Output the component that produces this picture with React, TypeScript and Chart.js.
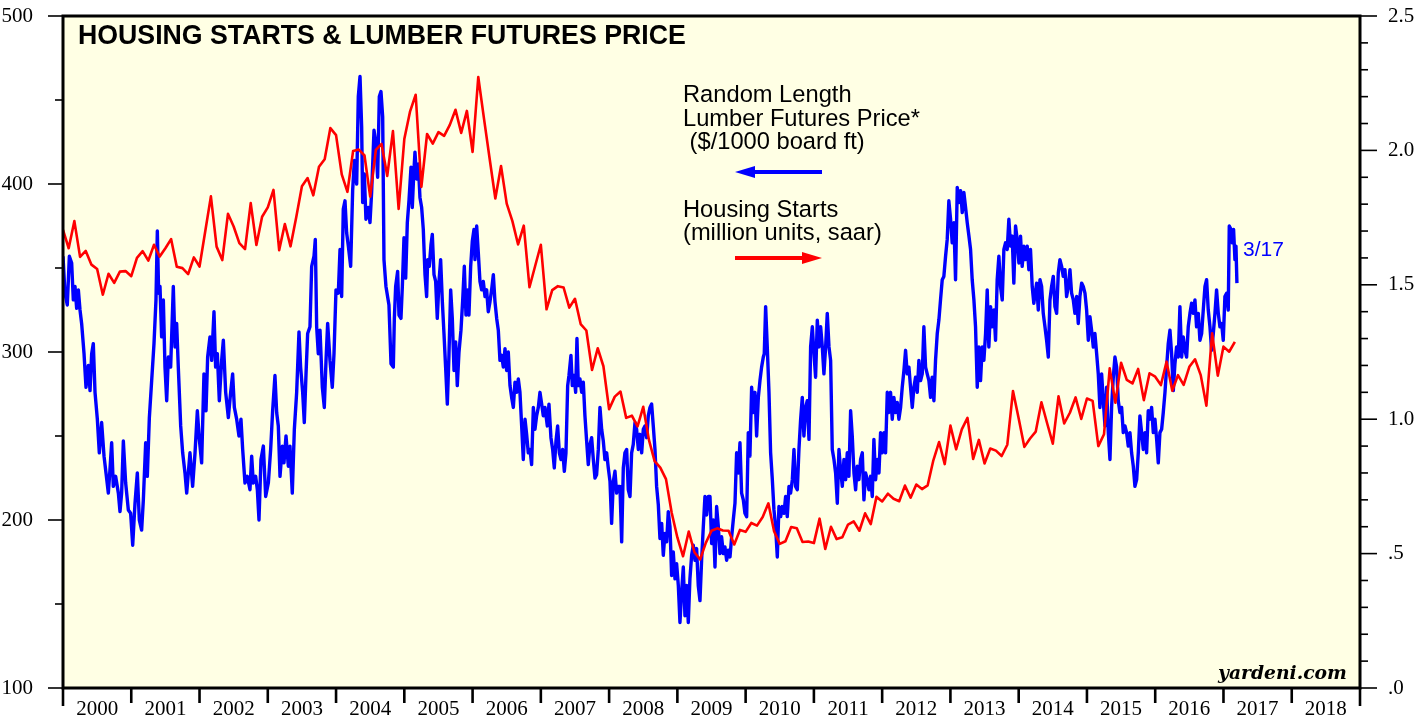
import React, { useEffect, useRef } from "react";
import { Chart, registerables } from "chart.js";

Chart.register(...registerables);

// Year axis: labels centred inside each year, ticks at year boundaries
const yearLabels = [2000, 2001, 2002, 2003, 2004, 2005, 2006, 2007, 2008, 2009, 2010, 2011, 2012, 2013, 2014, 2015, 2016, 2017, 2018];
const leftTicks = [100, 150, 200, 250, 300, 350, 400, 450, 500];
const rightTickLabels = ["2.5", "2.0", "1.5", "1.0", ".5", ".0"];

// Housing starts (million units, saar), monthly, first value = Dec 1999 (plotted at month end)
const housingFirstMonth = "1999-12";
const housingStarts = [
  1.704,
  1.636, 1.737, 1.604, 1.626, 1.575, 1.559, 1.463, 1.541, 1.507, 1.549, 1.551, 1.532,
  1.600, 1.625, 1.590, 1.649, 1.605, 1.636, 1.670, 1.567, 1.562, 1.540, 1.602, 1.568,
  1.698, 1.829, 1.642, 1.592, 1.764, 1.717, 1.655, 1.633, 1.804, 1.648, 1.753, 1.788,
  1.853, 1.629, 1.726, 1.643, 1.751, 1.867, 1.897, 1.833, 1.939, 1.967, 2.083, 2.057,
  1.911, 1.846, 1.998, 2.003, 1.981, 1.828, 2.002, 2.024, 1.905, 2.072, 1.782, 2.042,
  2.144, 2.207, 1.864, 2.061, 2.025, 2.068, 2.054, 2.095, 2.151, 2.065, 2.147, 1.994,
  2.273, 2.119, 1.969, 1.821, 1.942, 1.802, 1.737, 1.650, 1.720, 1.491, 1.570, 1.649,
  1.409, 1.480, 1.495, 1.490, 1.415, 1.448, 1.354, 1.330, 1.183, 1.264, 1.197, 1.037,
  1.084, 1.103, 1.005, 1.013, 0.973, 1.046, 0.923, 0.844, 0.820, 0.777, 0.652, 0.560,
  0.490, 0.582, 0.505, 0.478, 0.540, 0.585, 0.594, 0.586, 0.585, 0.534, 0.588, 0.581,
  0.614, 0.604, 0.636, 0.687, 0.583, 0.536, 0.546, 0.599, 0.594, 0.543, 0.545, 0.539,
  0.630, 0.517, 0.600, 0.554, 0.561, 0.608, 0.620, 0.585, 0.650, 0.610, 0.711, 0.694,
  0.723, 0.704, 0.695, 0.753, 0.708, 0.757, 0.740, 0.754, 0.847, 0.915, 0.833, 0.976,
  0.888, 0.962, 1.005, 0.852, 0.923, 0.835, 0.891, 0.883, 0.863, 0.905, 1.105, 1.003,
  0.897, 0.928, 0.954, 1.063, 0.985, 0.909, 1.085, 0.984, 1.024, 1.081, 1.001, 1.077,
  1.068, 0.900, 0.944, 1.189, 1.061, 1.210, 1.146, 1.133, 1.187, 1.071, 1.171, 1.158,
  1.127, 1.214, 1.106, 1.164, 1.128, 1.195, 1.223, 1.164, 1.050, 1.320, 1.162, 1.270,
  1.251, 1.288,
];

// Random Length lumber futures price ($/1000 board ft): [years since 2000, price]
const lumberPrice: [number, number][] = [
  [0.000,357],[0.029,335],[0.063,328],[0.093,357],[0.127,353],[0.151,331],[0.176,339],[0.200,326],[0.225,337],[0.249,325],
  [0.273,317],[0.308,299],[0.337,279],[0.371,292],[0.396,277],[0.420,299],[0.444,305],[0.469,276],[0.503,260],[0.532,240],
  [0.566,258],[0.601,238],[0.630,228],[0.664,216],[0.688,230],[0.713,246],[0.737,220],[0.771,226],[0.811,216],[0.835,205],
  [0.859,216],[0.884,247],[0.918,222],[0.957,206],[0.991,204],[1.021,185],[1.055,210],[1.089,228],[1.118,200],[1.152,194],
  [1.177,212],[1.211,246],[1.235,226],[1.265,261],[1.299,283],[1.333,305],[1.362,331],[1.382,372],[1.401,335],[1.421,339],
  [1.445,309],[1.470,331],[1.494,291],[1.519,271],[1.543,297],[1.577,291],[1.616,339],[1.641,303],[1.665,317],[1.689,291],
  [1.724,256],[1.753,240],[1.787,228],[1.812,216],[1.836,228],[1.860,240],[1.899,220],[1.934,240],[1.968,265],[1.997,248],
  [2.031,234],[2.065,287],[2.095,265],[2.119,297],[2.153,309],[2.178,295],[2.212,324],[2.236,291],[2.261,299],[2.290,271],
  [2.324,295],[2.349,307],[2.383,276],[2.422,261],[2.456,276],[2.485,287],[2.510,267],[2.544,260],[2.578,250],[2.607,260],
  [2.632,242],[2.666,222],[2.700,226],[2.739,218],[2.764,238],[2.788,222],[2.822,226],[2.847,218],[2.871,200],[2.900,236],
  [2.935,244],[2.969,214],[3.008,222],[3.042,242],[3.071,265],[3.105,286],[3.130,264],[3.154,256],[3.179,226],[3.213,244],
  [3.237,234],[3.267,250],[3.301,232],[3.325,244],[3.359,216],[3.389,254],[3.423,276],[3.457,312],[3.481,291],[3.511,276],
  [3.535,258],[3.560,287],[3.584,311],[3.618,315],[3.643,351],[3.677,357],[3.696,367],[3.716,315],[3.740,299],[3.765,313],
  [3.799,279],[3.828,267],[3.853,295],[3.877,317],[3.911,295],[3.945,279],[3.970,299],[3.999,337],[4.033,335],[4.058,361],
  [4.082,333],[4.106,385],[4.131,390],[4.155,371],[4.180,363],[4.214,351],[4.243,396],[4.268,414],[4.302,400],[4.326,452],
  [4.351,464],[4.375,434],[4.390,389],[4.414,406],[4.438,379],[4.473,386],[4.497,377],[4.521,395],[4.556,432],[4.585,424],
  [4.609,404],[4.634,452],[4.658,455],[4.683,440],[4.702,355],[4.731,339],[4.775,328],[4.805,293],[4.839,291],[4.854,320],
  [4.873,339],[4.902,348],[4.922,322],[4.951,320],[4.971,339],[4.995,368],[5.020,344],[5.044,377],[5.068,390],[5.098,410],
  [5.117,386],[5.137,405],[5.156,419],[5.181,403],[5.205,412],[5.229,392],[5.254,386],[5.278,373],[5.303,346],[5.327,333],
  [5.342,355],[5.366,351],[5.391,364],[5.410,370],[5.435,346],[5.459,342],[5.483,320],[5.508,342],[5.532,355],[5.557,330],
  [5.581,311],[5.605,291],[5.630,269],[5.654,298],[5.679,337],[5.703,320],[5.728,289],[5.752,306],[5.776,280],[5.801,300],
  [5.830,313],[5.854,330],[5.879,351],[5.903,322],[5.928,337],[5.947,322],[5.972,351],[5.996,366],[6.021,373],[6.035,355],
  [6.060,375],[6.084,359],[6.108,342],[6.133,337],[6.157,342],[6.182,333],[6.206,337],[6.230,324],[6.255,330],[6.279,337],
  [6.304,346],[6.328,330],[6.353,320],[6.377,313],[6.401,295],[6.426,298],[6.450,291],[6.475,302],[6.499,289],[6.523,300],
  [6.548,280],[6.572,273],[6.597,267],[6.621,282],[6.646,276],[6.670,284],[6.694,276],[6.719,256],[6.743,236],[6.768,260],
  [6.792,251],[6.816,240],[6.841,242],[6.865,233],[6.890,267],[6.914,254],[6.938,262],[6.963,267],[6.987,276],[7.012,269],
  [7.036,262],[7.061,267],[7.095,256],[7.119,269],[7.148,249],[7.173,242],[7.197,231],[7.222,247],[7.246,256],[7.271,240],
  [7.295,236],[7.319,242],[7.344,229],[7.368,240],[7.393,280],[7.412,286],[7.441,298],[7.461,280],[7.485,286],[7.510,276],
  [7.529,308],[7.549,280],[7.573,284],[7.598,276],[7.622,282],[7.646,262],[7.671,247],[7.695,233],[7.720,245],[7.744,249],
  [7.769,236],[7.793,225],[7.817,227],[7.842,242],[7.866,267],[7.891,254],[7.915,247],[7.939,236],[7.964,240],[7.988,231],
  [8.013,223],[8.037,198],[8.062,223],[8.086,229],[8.110,216],[8.135,220],[8.159,220],[8.184,187],[8.208,231],[8.232,240],
  [8.257,242],[8.281,218],[8.306,214],[8.330,240],[8.354,245],[8.379,258],[8.403,254],[8.428,242],[8.452,251],[8.477,240],
  [8.501,254],[8.525,256],[8.550,249],[8.574,262],[8.599,267],[8.623,269],[8.647,256],[8.672,242],[8.696,220],[8.721,209],
  [8.745,189],[8.770,198],[8.794,179],[8.818,192],[8.843,187],[8.867,205],[8.892,196],[8.916,167],[8.940,181],[8.965,165],
  [8.989,174],[9.014,161],[9.038,139],[9.062,157],[9.087,172],[9.111,143],[9.136,161],[9.160,139],[9.184,165],[9.209,179],
  [9.233,185],[9.258,176],[9.282,183],[9.306,161],[9.331,152],[9.355,176],[9.380,196],[9.404,214],[9.429,203],[9.453,214],
  [9.478,214],[9.502,186],[9.526,200],[9.551,172],[9.575,208],[9.600,196],[9.624,180],[9.648,190],[9.673,180],[9.697,184],
  [9.722,176],[9.746,182],[9.771,178],[9.795,190],[9.819,200],[9.844,210],[9.868,240],[9.893,228],[9.917,246],[9.941,216],
  [9.966,212],[9.990,204],[10.015,202],[10.039,252],[10.063,238],[10.088,279],[10.112,264],[10.137,276],[10.161,250],[10.186,273],
  [10.210,283],[10.234,291],[10.259,297],[10.273,299],[10.293,327],[10.317,303],[10.342,276],[10.366,240],[10.391,224],[10.415,206],
  [10.439,196],[10.464,178],[10.488,208],[10.513,202],[10.537,208],[10.562,204],[10.586,214],[10.610,202],[10.635,220],[10.659,216],
  [10.684,224],[10.708,242],[10.732,220],[10.757,218],[10.781,242],[10.806,260],[10.830,273],[10.854,250],[10.879,267],[10.903,271],
  [10.928,248],[10.952,303],[10.977,315],[11.001,299],[11.025,285],[11.050,319],[11.074,303],[11.099,315],[11.123,303],[11.147,287],
  [11.172,303],[11.196,323],[11.221,303],[11.245,295],[11.269,242],[11.294,236],[11.318,228],[11.343,210],[11.367,242],[11.391,230],
  [11.416,220],[11.440,236],[11.465,224],[11.489,240],[11.513,226],[11.538,265],[11.562,250],[11.587,228],[11.611,218],[11.635,232],
  [11.660,224],[11.684,236],[11.709,240],[11.733,212],[11.757,228],[11.782,224],[11.806,218],[11.831,226],[11.855,214],[11.879,248],
  [11.904,224],[11.928,236],[11.953,228],[11.977,252],[12.001,240],[12.026,252],[12.050,240],[12.075,276],[12.099,264],[12.123,276],
  [12.148,260],[12.172,273],[12.197,264],[12.221,270],[12.245,260],[12.270,267],[12.294,279],[12.319,289],[12.343,301],[12.367,287],
  [12.392,291],[12.416,279],[12.441,267],[12.465,279],[12.489,285],[12.514,276],[12.538,295],[12.563,283],[12.587,287],[12.611,315],
  [12.636,291],[12.660,287],[12.685,283],[12.709,273],[12.733,285],[12.758,271],[12.782,295],[12.807,311],[12.831,319],[12.855,331],
  [12.880,343],[12.904,345],[12.929,357],[12.953,367],[12.977,390],[13.002,379],[13.026,365],[13.051,377],[13.075,343],[13.100,398],
  [13.124,389],[13.149,396],[13.173,383],[13.197,395],[13.222,386],[13.246,377],[13.271,369],[13.295,361],[13.319,343],[13.344,331],
  [13.368,315],[13.393,279],[13.417,303],[13.441,283],[13.466,303],[13.490,295],[13.515,311],[13.539,337],[13.563,303],[13.588,327],
  [13.612,315],[13.637,325],[13.661,307],[13.685,343],[13.710,357],[13.734,339],[13.759,331],[13.783,361],[13.807,365],[13.832,361],
  [13.856,379],[13.881,363],[13.905,369],[13.929,341],[13.954,375],[13.978,367],[14.003,353],[14.027,369],[14.051,351],[14.076,363],
  [14.100,355],[14.125,363],[14.149,349],[14.173,361],[14.198,339],[14.222,329],[14.263,341],[14.287,325],[14.312,343],[14.336,339],
  [14.360,323],[14.385,315],[14.409,307],[14.434,297],[14.458,331],[14.482,339],[14.507,345],[14.531,327],[14.556,323],[14.580,347],
  [14.604,355],[14.629,351],[14.653,345],[14.678,349],[14.702,333],[14.727,339],[14.751,349],[14.775,335],[14.800,331],[14.824,323],
  [14.849,333],[14.873,317],[14.897,333],[14.922,341],[14.946,339],[14.971,335],[14.995,325],[15.020,307],[15.044,321],[15.068,313],
  [15.093,303],[15.117,311],[15.142,299],[15.166,287],[15.190,267],[15.215,287],[15.239,271],[15.264,256],[15.288,279],[15.313,252],
  [15.337,236],[15.361,267],[15.386,285],[15.410,297],[15.435,291],[15.459,271],[15.483,264],[15.508,267],[15.532,252],[15.557,256],
  [15.581,252],[15.605,244],[15.630,252],[15.654,240],[15.679,232],[15.703,220],[15.728,224],[15.752,240],[15.776,262],[15.801,252],
  [15.825,242],[15.850,252],[15.874,240],[15.898,265],[15.923,260],[15.947,267],[15.972,252],[15.996,260],[16.021,248],[16.045,234],
  [16.069,252],[16.094,254],[16.118,264],[16.143,276],[16.167,291],[16.191,305],[16.216,313],[16.240,299],[16.265,277],[16.289,293],
  [16.313,303],[16.338,297],[16.362,327],[16.387,297],[16.411,309],[16.436,301],[16.460,297],[16.484,315],[16.509,323],[16.533,329],
  [16.558,323],[16.582,331],[16.606,315],[16.631,323],[16.655,307],[16.680,311],[16.704,325],[16.729,339],[16.753,343],[16.777,325],
  [16.802,315],[16.826,301],[16.851,311],[16.875,323],[16.899,337],[16.924,323],[16.948,315],[16.973,317],[16.997,307],[17.021,333],
  [17.046,335],[17.070,325],[17.085,375],[17.109,373],[17.129,365],[17.148,373],[17.168,355],[17.183,363],[17.197,341],
];

const titleText = "HOUSING STARTS & LUMBER FUTURES PRICE";
const lumberNote = ["Random Length", "Lumber Futures Price*", " ($/1000 board ft)"];
const housingNote = ["Housing Starts", "(million units, saar)"];
const lastDateLabel = "3/17";
const sourceLabel = "yardeni.com";

const BLUE = "#0000ff";
const RED = "#ff0000";
const PLOT_BG = "#ffffe4";

function drawArrow(ctx: CanvasRenderingContext2D, x1: number, x2: number, y: number, color: string, headLeft: boolean) {
  ctx.save();
  ctx.fillStyle = color;
  ctx.strokeStyle = color;
  ctx.lineWidth = 4;
  const head = 20;
  const hh = 6;
  ctx.beginPath();
  if (headLeft) {
    ctx.moveTo(x1 + head - 2, y);
    ctx.lineTo(x2, y);
  } else {
    ctx.moveTo(x1, y);
    ctx.lineTo(x2 - head + 2, y);
  }
  ctx.stroke();
  ctx.beginPath();
  if (headLeft) {
    ctx.moveTo(x1, y);
    ctx.lineTo(x1 + head, y - hh);
    ctx.lineTo(x1 + head, y + hh);
  } else {
    ctx.moveTo(x2, y);
    ctx.lineTo(x2 - head, y - hh);
    ctx.lineTo(x2 - head, y + hh);
  }
  ctx.closePath();
  ctx.fill();
  ctx.restore();
}

function fitFont(ctx: CanvasRenderingContext2D, text: string, style: string, family: string, width: number) {
  ctx.font = `${style} 20px ${family}`;
  const w = ctx.measureText(text).width;
  return `${style} ${(20 * width) / w}px ${family}`;
}

const decorPlugin = {
  id: "decor",
  beforeDraw(chart: any) {
    const { ctx, chartArea } = chart;
    ctx.save();
    ctx.fillStyle = "#ffffff";
    ctx.fillRect(0, 0, chart.width, chart.height);
    ctx.fillStyle = PLOT_BG;
    ctx.fillRect(chartArea.left, chartArea.top, chartArea.right - chartArea.left, chartArea.bottom - chartArea.top);
    ctx.restore();
  },
  afterDraw(chart: any) {
    const { ctx, chartArea } = chart;
    const { left, right, top, bottom } = chartArea;
    const xs = chart.scales.x;
    const yl = chart.scales.yL;
    const yr = chart.scales.yR;
    ctx.save();
    ctx.strokeStyle = "#000";
    // tick marks
    ctx.lineWidth = 1.6;
    leftTicks.forEach((v) => {
      const y = yl.getPixelForValue(v);
      const len = v % 100 === 0 ? 15 : 8;
      ctx.beginPath();
      ctx.moveTo(left - len, y);
      ctx.lineTo(left, y);
      ctx.stroke();
    });
    for (let i = 0; i <= 25; i++) {
      const y = yr.getPixelForValue(i / 10);
      const len = i % 5 === 0 ? 17 : 8;
      ctx.beginPath();
      ctx.moveTo(right, y);
      ctx.lineTo(right + len, y);
      ctx.stroke();
    }
    ctx.lineWidth = 2.6;
    for (let yv = 2000; yv <= 2019; yv++) {
      const x = xs.getPixelForValue(yv);
      const len = yv === 2000 || yv === 2019 ? 18 : 15;
      ctx.beginPath();
      ctx.moveTo(x, bottom);
      ctx.lineTo(x, bottom + len);
      ctx.stroke();
    }
    // frame
    ctx.lineWidth = 3;
    ctx.strokeRect(left, top, right - left, bottom - top);

    // texts
    ctx.fillStyle = "#000";
    ctx.textBaseline = "alphabetic";
    ctx.textAlign = "left";
    ctx.font = fitFont(ctx, titleText, "bold", "'Liberation Sans', Arial, sans-serif", 608);
    ctx.fillText(titleText, 78, 44);

    ctx.font = fitFont(ctx, lumberNote[1], "", "'Liberation Sans', Arial, sans-serif", 237);
    const lumberY = [102, 126, 149];
    lumberNote.forEach((t, i) => ctx.fillText(t, 683, lumberY[i]));
    const housingY = [217, 240];
    housingNote.forEach((t, i) => ctx.fillText(t, 683, housingY[i]));

    drawArrow(ctx, 735, 822, 172, BLUE, true);
    drawArrow(ctx, 735, 822, 258, RED, false);

    ctx.fillStyle = BLUE;
    ctx.font = "21px 'Liberation Sans', Arial, sans-serif";
    ctx.fillText(lastDateLabel, 1243, 256);

    ctx.fillStyle = "#000";
    ctx.font = fitFont(ctx, sourceLabel, "italic bold", "'DejaVu Serif', serif", 129);
    ctx.fillText(sourceLabel, 1218, 679);
    ctx.restore();
  },
};

function zeroPadding(s: any) {
  s.paddingTop = 0;
  s.paddingBottom = 0;
  s.paddingLeft = 0;
  s.paddingRight = 0;
}

export default function App() {
  const ref = useRef<HTMLCanvasElement | null>(null);
  useEffect(() => {
    if (!ref.current) return;
    const [fy, fm] = housingFirstMonth.split("-").map(Number);
    const housingPoints = housingStarts.map((v, i) => ({ x: fy + fm / 12 + i / 12, y: v }));
    const lumberPoints = lumberPrice.map(([t, v]) => ({ x: 2000 + t, y: v }));
    const serif = "'Liberation Serif', 'Times New Roman', serif";
    const chart = new Chart(ref.current, {
      type: "line",
      data: {
        datasets: [
          {
            label: "Housing Starts",
            data: housingPoints,
            yAxisID: "yR",
            borderColor: RED,
            borderWidth: 2.6,
            pointRadius: 0,
            tension: 0,
            borderJoinStyle: "round",
            order: 0,
          },
          {
            label: "Lumber Futures Price",
            data: lumberPoints,
            yAxisID: "yL",
            borderColor: BLUE,
            borderWidth: 3.4,
            pointRadius: 0,
            tension: 0,
            borderJoinStyle: "round",
            order: 1,
          },
        ],
      },
      options: {
        animation: false,
        responsive: false,
        devicePixelRatio: 1,
        parsing: false,
        normalized: true,
        layout: { padding: { top: 16, left: 0, right: 0, bottom: 0 } },
        plugins: { legend: { display: false }, tooltip: { enabled: false } },
        events: [],
        scales: {
          x: {
            type: "linear",
            min: 2000,
            max: 2019,
            grid: { display: false },
            border: { display: false },
            afterBuildTicks: (s: any) => {
              s.ticks = yearLabels.map((y) => ({ value: y + 0.5 }));
            },
            afterFit: (s: any) => {
              s.height = 31;
              zeroPadding(s);
            },
            ticks: {
              autoSkip: false,
              maxRotation: 0,
              padding: 1,
              color: "#000",
              font: { family: serif, size: 21 },
              callback: (v: any) => String(Math.floor(Number(v))),
            },
          },
          yL: {
            type: "linear",
            position: "left",
            min: 100,
            max: 500,
            grid: { display: false },
            border: { display: false },
            afterBuildTicks: (s: any) => {
              s.ticks = leftTicks.map((v) => ({ value: v }));
            },
            afterFit: (s: any) => {
              s.width = 63;
              zeroPadding(s);
            },
            ticks: {
              autoSkip: false,
              padding: 22,
              color: "#000",
              font: { family: serif, size: 21 },
              callback: (v: any) => (Number(v) % 100 === 0 ? String(v) : ""),
            },
          },
          yR: {
            type: "linear",
            position: "right",
            min: 0,
            max: 2.5,
            grid: { display: false },
            border: { display: false },
            afterBuildTicks: (s: any) => {
              s.ticks = rightTickLabels.map((t) => ({ value: Number(t) }));
            },
            afterFit: (s: any) => {
              s.width = 64;
              zeroPadding(s);
            },
            ticks: {
              autoSkip: false,
              padding: 20,
              color: "#000",
              font: { family: serif, size: 21 },
              callback: (v: any) => {
                const n = Number(v);
                return n < 1 ? "." + Math.round(n * 10) : n.toFixed(1);
              },
            },
          },
        },
      },
      plugins: [decorPlugin],
    } as any);
    return () => chart.destroy();
  }, []);
  return (
    <div style={{ position: "absolute", left: 0, top: 0, width: 1424, height: 719 }}>
      <canvas ref={ref} width={1424} height={719} style={{ display: "block", width: 1424, height: 719 }} />
    </div>
  );
}
